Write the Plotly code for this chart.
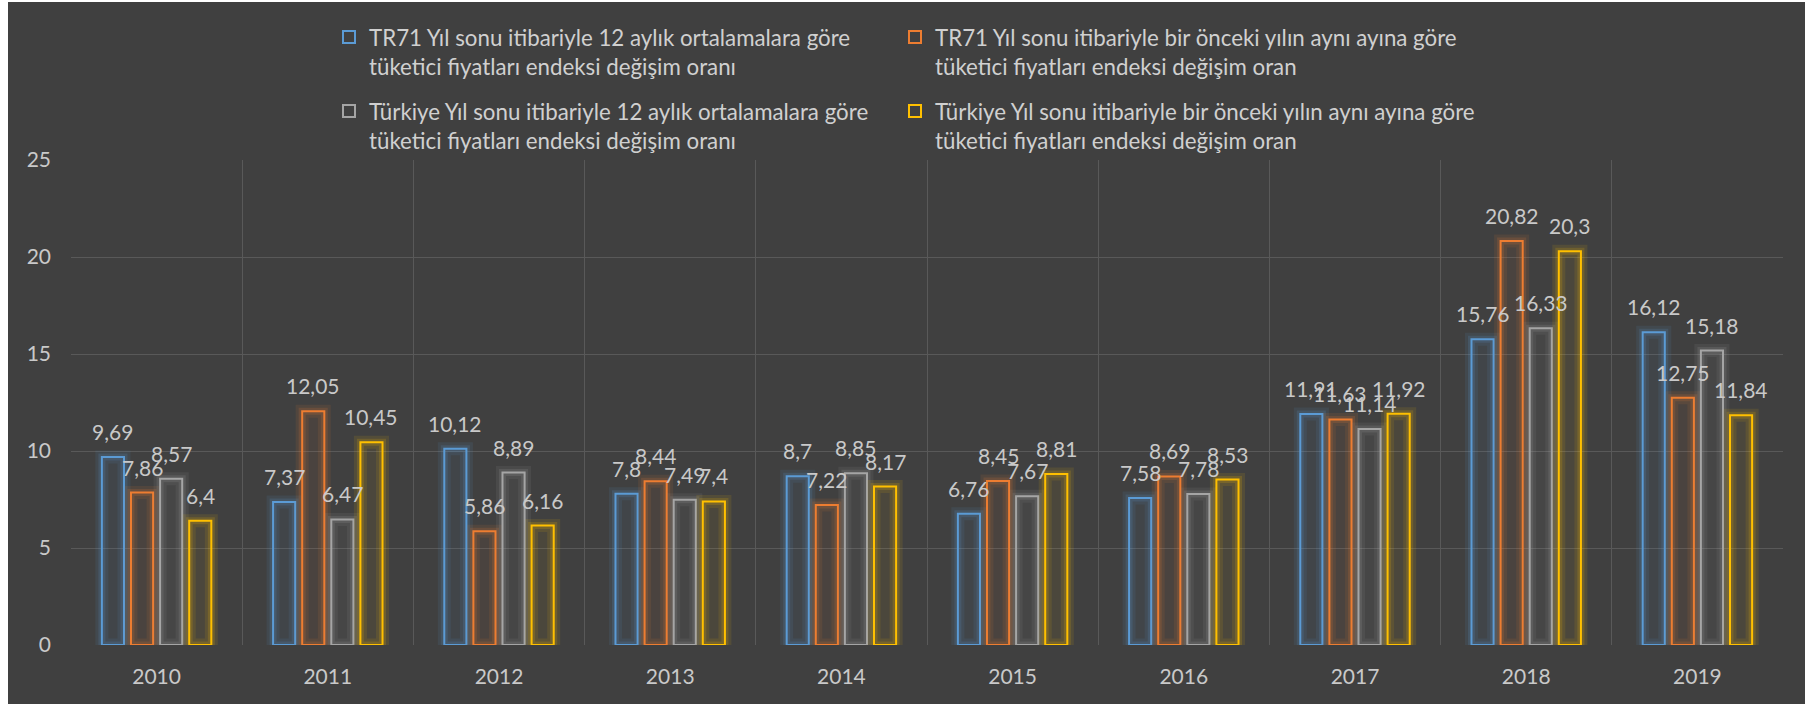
import plotly.graph_objects as go

years = ["2010", "2011", "2012", "2013", "2014", "2015", "2016", "2017", "2018", "2019"]
tr71_avg = [9.69, 7.37, 10.12, 7.8, 8.7, 6.76, 7.58, 11.91, 15.76, 16.12]
tr71_yoy = [7.86, 12.05, 5.86, 8.44, 7.22, 8.45, 8.69, 11.63, 20.82, 12.75]
tr_avg = [8.57, 6.47, 8.89, 7.49, 8.85, 7.67, 7.78, 11.14, 16.33, 15.18]
tr_yoy = [6.4, 10.45, 6.16, 7.4, 8.17, 8.81, 8.53, 11.92, 20.3, 11.84]

names = [
    "TR71 Yıl sonu itibariyle 12 aylık ortalamalara göre<br>tüketici fiyatları endeksi değişim oranı",
    "TR71 Yıl sonu itibariyle bir önceki yılın aynı ayına göre<br>tüketici fiyatları endeksi değişim oran",
    "Türkiye Yıl sonu itibariyle 12 aylık ortalamalara göre<br>tüketici fiyatları endeksi değişim oranı",
    "Türkiye Yıl sonu itibariyle bir önceki yılın aynı ayına göre<br>tüketici fiyatları endeksi değişim oran",
]
series = [tr71_avg, tr71_yoy, tr_avg, tr_yoy]
colors = [(91, 155, 213), (237, 125, 49), (165, 165, 165), (255, 192, 0)]

# figure is placed at page offset (8, 2) by the body margin set below
W, H = 1797, 702
ML, MT = 63, 158
PLOT_R, PLOT_B = 1775, 643
MR, MB = W - PLOT_R, H - PLOT_B
PW, PH = PLOT_R - ML, PLOT_B - MT

BARGAP, BARGROUPGAP = 0.32, 0.24
SLOT = PW / len(years) * (1 - BARGAP) / len(series)


def px2x(px):
    return (px - ML) / PW


def py2y(py):
    return (PLOT_B - py) / PH


FONT = "Lato"
TXT = "#c9c9c9"
GLOW = [(13, 0.10, 0.06), (7, 0.16, 0.0)]  # (line width, line alpha, fill alpha)

fig = go.Figure()
legend_ids = ["legend", "legend2", "legend3", "legend4"]
annotations = []
for i, (vals, name, c) in enumerate(zip(series, names, colors)):
    rgb = "rgb(%d,%d,%d)" % c
    # soft glow behind each bar
    for gw, ga, fa in GLOW:
        fig.add_trace(go.Bar(
            x=years, y=vals, offsetgroup=str(i), showlegend=False, hoverinfo="skip",
            marker=dict(color="rgba(%d,%d,%d,%s)" % (c + (fa,)),
                        line=dict(color="rgba(%d,%d,%d,%s)" % (c + (ga,)), width=gw)),
        ))
    fig.add_trace(go.Bar(
        x=years, y=vals, name=name, offsetgroup=str(i), legend=legend_ids[i],
        marker=dict(color="rgba(0,0,0,0)", line=dict(color=rgb, width=2)),
    ))
    for j, v in enumerate(vals):
        # x given as the category index on the category axis
        annotations.append(dict(
            x=j, y=v, xref="x", yref="y", text=str(v).replace(".", ","),
            showarrow=False, xanchor="center", yanchor="bottom",
            xshift=(i - (len(series) - 1) / 2) * SLOT, yshift=11,
            font=dict(family=FONT, size=21, color=TXT),
        ))

leg_common = dict(font=dict(family=FONT, size=22.3, color="#d0d0d0"), bgcolor="rgba(0,0,0,0)",
                  valign="top", xanchor="left", yanchor="top", itemclick=False)
col_x = [321, 887]
row_y = [14, 88]
pos = [(0, 0), (1, 0), (0, 1), (1, 1)]
layout_legends = {}
for lid, (ci, ri) in zip(legend_ids, pos):
    layout_legends[lid] = dict(x=px2x(col_x[ci]), y=py2y(row_y[ri]), **leg_common)

fig.update_layout(
    width=W, height=H,
    margin=dict(l=ML, r=MR, t=MT, b=MB, autoexpand=False),
    paper_bgcolor="#404040", plot_bgcolor="#404040",
    barmode="group", bargap=BARGAP, bargroupgap=BARGROUPGAP,
    font=dict(family=FONT, color=TXT),
    xaxis=dict(type="category", range=[-0.5, len(years) - 0.5], tickson="boundaries",
               showgrid=True, gridcolor="#595959",
               gridwidth=1, ticks="", showline=False, zeroline=False,
               tickfont=dict(family=FONT, size=21, color=TXT), ticklabelstandoff=17),
    yaxis=dict(range=[0, 25], dtick=5, showgrid=True, gridcolor="#595959", gridwidth=1,
               zeroline=False, showline=False, ticks="",
               tickfont=dict(family=FONT, size=21, color=TXT), ticklabelstandoff=19),
    annotations=annotations,
    **layout_legends,
)

fig.write_html("out.html", post_script="document.body.style.margin='2px 0px 0px 8px';")
